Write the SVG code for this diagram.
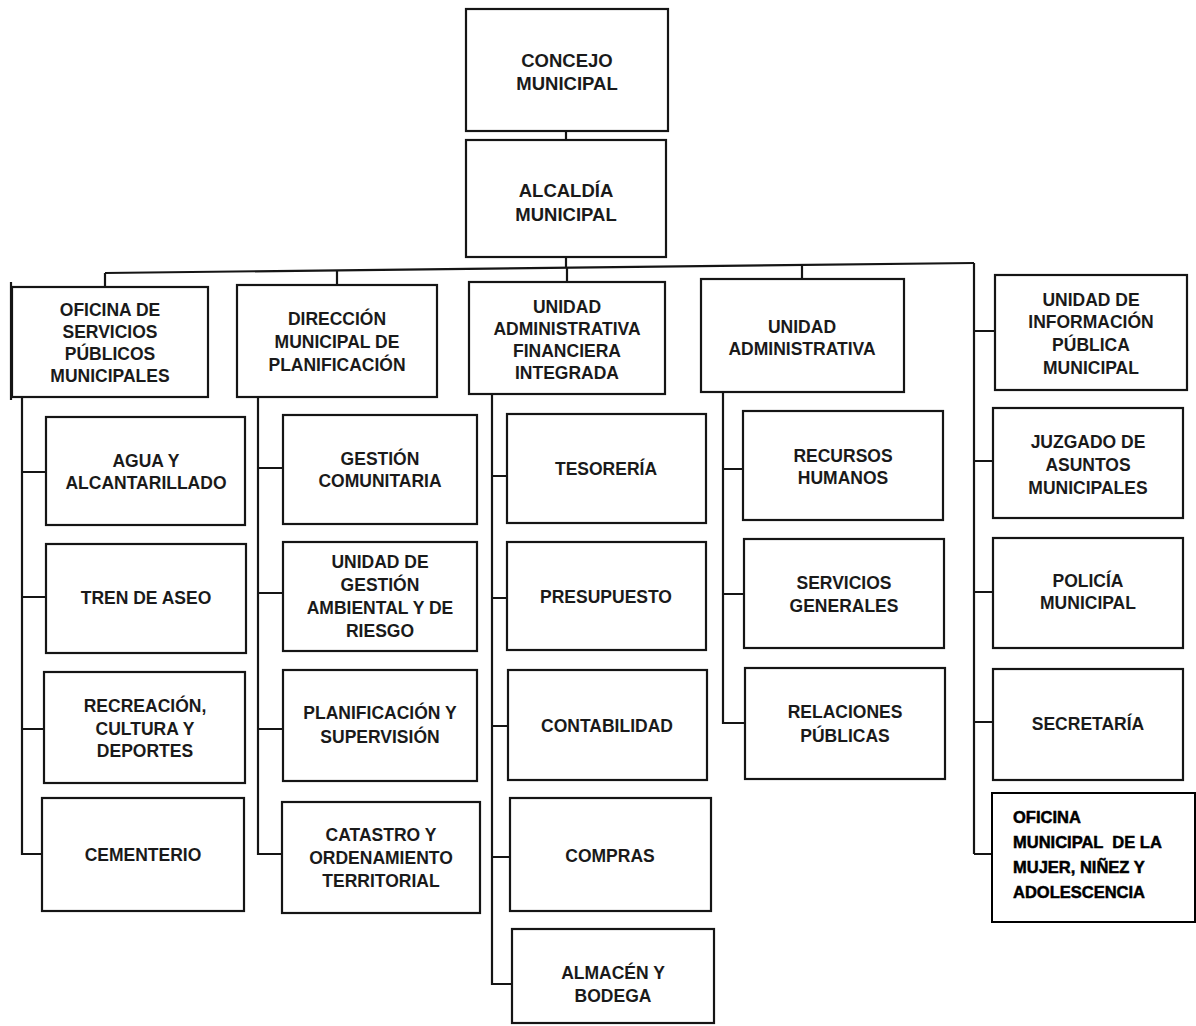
<svg xmlns="http://www.w3.org/2000/svg" width="1196" height="1026" viewBox="0 0 1196 1026">
<style>
.b{fill:#fff;stroke:#151515;stroke-width:2.2}
.c{fill:none;stroke:#151515;stroke-width:2.2}
.t{font-family:"Liberation Sans",Arial,sans-serif;font-weight:bold;font-size:17.5px;fill:#1a1a1a;text-anchor:middle}
.h{font-size:18.5px}
.m{font-family:"Liberation Sans",Arial,sans-serif;font-weight:900;font-size:16.5px;fill:#000;stroke:#000;stroke-width:0.5;white-space:pre}
.k{fill:#fff;stroke:#000;stroke-width:2}
</style>
<rect width="1196" height="1026" fill="#fff"/>
<g id="connectors">
<path class="c" d="M566 131V140M566 257V268"/>
<path class="c" d="M105 273L974 263"/>
<path class="c" d="M105 273V287M337 270V285M567 267V282M802 265V279"/>
<path class="c" d="M974 263V854M974 331H995M974 461H993M974 592H993M974 722H993M974 854H992"/>
<path class="c" d="M22 398V854H42M22 472H46M22 597H46M22 729H44"/>
<path class="c" d="M258 397V854H282M258 468H283M258 593H283M258 729H283"/>
<path class="c" d="M492 394V984H512M492 476H507M492 598H507M492 726H508M492 857H510"/>
<path class="c" d="M723 392V723H745M723 469H743M723 594H744"/>
</g>
<g id="concejo"><rect class="b" x="466" y="9" width="202" height="122"/><text class="t h" x="567" y="67">CONCEJO</text><text class="t h" x="567" y="90">MUNICIPAL</text></g>
<g id="alcaldia"><rect class="b" x="466" y="140" width="200" height="117"/><text class="t h" x="566" y="197">ALCALDÍA</text><text class="t h" x="566" y="221">MUNICIPAL</text></g>
<g id="oficina-servicios"><rect class="b" x="12" y="287" width="196" height="110"/><path class="c" d="M11 282V400" stroke-width="3"/><text class="t" x="110" y="316">OFICINA DE</text><text class="t" x="110" y="338">SERVICIOS</text><text class="t" x="110" y="360">PÚBLICOS</text><text class="t" x="110" y="382">MUNICIPALES</text></g>
<g id="direccion"><rect class="b" x="237" y="285" width="200" height="112"/><text class="t" x="337" y="325">DIRECCIÓN</text><text class="t" x="337" y="348">MUNICIPAL DE</text><text class="t" x="337" y="371">PLANIFICACIÓN</text></g>
<g id="uafi"><rect class="b" x="469" y="282" width="196" height="112"/><text class="t" x="567" y="313">UNIDAD</text><text class="t" x="567" y="335">ADMINISTRATIVA</text><text class="t" x="567" y="357">FINANCIERA</text><text class="t" x="567" y="379">INTEGRADA</text></g>
<g id="ua"><rect class="b" x="701" y="279" width="203" height="113"/><text class="t" x="802" y="333">UNIDAD</text><text class="t" x="802" y="355">ADMINISTRATIVA</text></g>
<g id="uip"><rect class="b" x="995" y="275" width="192" height="115"/><text class="t" x="1091" y="306">UNIDAD DE</text><text class="t" x="1091" y="328">INFORMACIÓN</text><text class="t" x="1091" y="351">PÚBLICA</text><text class="t" x="1091" y="374">MUNICIPAL</text></g>
<g id="agua"><rect class="b" x="46" y="417" width="199" height="108"/><text class="t" x="146" y="467">AGUA Y</text><text class="t" x="146" y="489">ALCANTARILLADO</text></g>
<g id="tren"><rect class="b" x="46" y="544" width="200" height="109"/><text class="t" x="146" y="604">TREN DE ASEO</text></g>
<g id="recreacion"><rect class="b" x="44" y="672" width="201" height="111"/><text class="t" x="145" y="712">RECREACIÓN,</text><text class="t" x="145" y="735">CULTURA Y</text><text class="t" x="145" y="757">DEPORTES</text></g>
<g id="cementerio"><rect class="b" x="42" y="798" width="202" height="113"/><text class="t" x="143" y="861">CEMENTERIO</text></g>
<g id="gestion"><rect class="b" x="283" y="415" width="194" height="109"/><text class="t" x="380" y="465">GESTIÓN</text><text class="t" x="380" y="487">COMUNITARIA</text></g>
<g id="ambiental"><rect class="b" x="283" y="542" width="194" height="109"/><text class="t" x="380" y="568">UNIDAD DE</text><text class="t" x="380" y="591">GESTIÓN</text><text class="t" x="380" y="614">AMBIENTAL Y DE</text><text class="t" x="380" y="637">RIESGO</text></g>
<g id="planificacion"><rect class="b" x="283" y="670" width="194" height="111"/><text class="t" x="380" y="719">PLANIFICACIÓN Y</text><text class="t" x="380" y="743">SUPERVISIÓN</text></g>
<g id="catastro"><rect class="b" x="282" y="802" width="198" height="111"/><text class="t" x="381" y="841">CATASTRO Y</text><text class="t" x="381" y="864">ORDENAMIENTO</text><text class="t" x="381" y="887">TERRITORIAL</text></g>
<g id="tesoreria"><rect class="b" x="507" y="414" width="199" height="109"/><text class="t" x="606" y="475">TESORERÍA</text></g>
<g id="presupuesto"><rect class="b" x="507" y="542" width="199" height="108"/><text class="t" x="606" y="603">PRESUPUESTO</text></g>
<g id="contabilidad"><rect class="b" x="508" y="670" width="199" height="110"/><text class="t" x="607" y="732">CONTABILIDAD</text></g>
<g id="compras"><rect class="b" x="510" y="798" width="201" height="113"/><text class="t" x="610" y="862">COMPRAS</text></g>
<g id="almacen"><rect class="b" x="512" y="929" width="202" height="94"/><text class="t" x="613" y="979">ALMACÉN Y</text><text class="t" x="613" y="1002">BODEGA</text></g>
<g id="rrhh"><rect class="b" x="743" y="411" width="200" height="109"/><text class="t" x="843" y="462">RECURSOS</text><text class="t" x="843" y="484">HUMANOS</text></g>
<g id="servicios-generales"><rect class="b" x="744" y="539" width="200" height="109"/><text class="t" x="844" y="589">SERVICIOS</text><text class="t" x="844" y="612">GENERALES</text></g>
<g id="relaciones"><rect class="b" x="745" y="668" width="200" height="111"/><text class="t" x="845" y="718">RELACIONES</text><text class="t" x="845" y="742">PÚBLICAS</text></g>
<g id="juzgado"><rect class="b" x="993" y="408" width="190" height="110"/><text class="t" x="1088" y="448">JUZGADO DE</text><text class="t" x="1088" y="471">ASUNTOS</text><text class="t" x="1088" y="494">MUNICIPALES</text></g>
<g id="policia"><rect class="b" x="993" y="538" width="190" height="110"/><text class="t" x="1088" y="587">POLICÍA</text><text class="t" x="1088" y="609">MUNICIPAL</text></g>
<g id="secretaria"><rect class="b" x="993" y="669" width="190" height="111"/><text class="t" x="1088" y="730">SECRETARÍA</text></g>
<g id="oficina-mujer"><rect class="k" x="992" y="793" width="203" height="129"/><text class="m" x="1013" y="823">OFICINA</text><text class="m" x="1013" y="848" xml:space="preserve">MUNICIPAL  DE LA</text><text class="m" x="1013" y="873">MUJER, NIÑEZ Y</text><text class="m" x="1013" y="898">ADOLESCENCIA</text></g>
</svg>
